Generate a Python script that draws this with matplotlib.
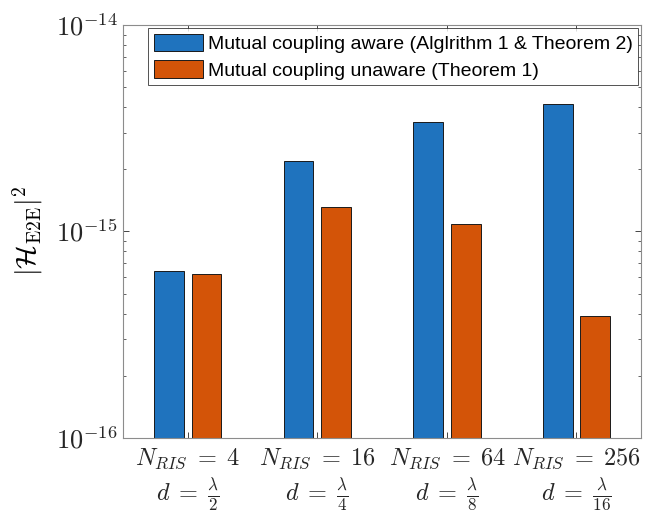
import numpy as np
import matplotlib.pyplot as plt
from matplotlib.ticker import FuncFormatter, NullFormatter, FixedLocator

# Values per configuration (N_RIS, element spacing)
n_ris = [4, 16, 64, 256]
spacing_den = [2, 4, 8, 16]
aware = [6.44e-16, 2.19e-15, 3.39e-15, 4.14e-15]
unaware = [6.22e-16, 1.31e-15, 1.09e-15, 3.9e-16]
y_major = [1e-16, 1e-15, 1e-14]
series_names = [
    "Mutual coupling aware (Alglrithm 1 & Theorem 2)",
    "Mutual coupling unaware (Theorem 1)",
]

plt.rcParams["mathtext.fontset"] = "cm"
axis_col = "#262626"

fig = plt.figure(figsize=(6.51, 5.15), dpi=100)
ax = fig.add_axes([0.189, 0.150, 0.796, 0.801])
ax.set_yscale("log")

x = np.arange(1, len(n_ris) + 1)
w = 0.23
off = 0.145
ax.bar(x - off, aware, width=w, color="#1F73BE",
       edgecolor="#1a1a1a", linewidth=0.7, label=series_names[0])
ax.bar(x + off, unaware, width=w, color="#D35408",
       edgecolor="#1a1a1a", linewidth=0.7, label=series_names[1])

ax.set_ylim(1e-16, 1e-14)
ax.set_xlim(0.5, 4.5)

ax.yaxis.set_major_locator(FixedLocator(y_major))
ax.yaxis.set_major_formatter(FuncFormatter(lambda v, p: r"$10^{%d}$" % round(np.log10(v))))
ax.yaxis.set_minor_formatter(NullFormatter())

ax.set_xticks(x)
ax.set_xticklabels(
    [f"$N_{{RIS}}\\;=\\;{n}$\n$d\\;=\\;\\frac{{\\lambda}}{{{s}}}$"
     for n, s in zip(n_ris, spacing_den)],
    fontsize=17.5, linespacing=1.25)
ax.tick_params(axis="both", which="both", direction="in", top=True, right=True,
               color=axis_col, labelcolor="#262626")
ax.tick_params(axis="both", which="major", length=4, width=0.6)
ax.tick_params(axis="y", which="minor", length=2.5, width=0.5)
ax.tick_params(axis="y", labelsize=19, pad=4)
ax.tick_params(axis="x", pad=6)
for s in ax.spines.values():
    s.set_color("#8c8c8c")
    s.set_linewidth(0.8)

ax.set_ylabel(r"$|\mathcal{H}_{\mathrm{E2E}}|^2$", fontsize=20, labelpad=8)

leg = ax.legend(loc="upper right", bbox_to_anchor=(1.0, 1.0),
                frameon=True, fancybox=False, edgecolor="#262626",
                handlelength=2.5, handleheight=1.0, handletextpad=0.25,
                labelspacing=0.35, borderpad=0.3, borderaxespad=0.15,
                prop={"family": "Liberation Sans", "size": 14.0})
leg.get_frame().set_linewidth(0.7)

fig.savefig("out.png", dpi=100)
plt.close(fig)
